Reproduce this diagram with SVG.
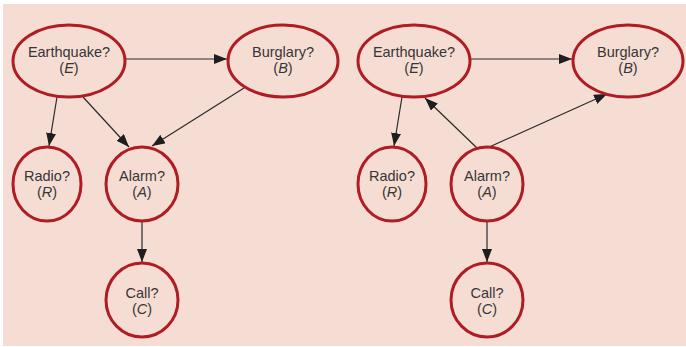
<svg xmlns="http://www.w3.org/2000/svg" width="686" height="347" viewBox="0 0 686 347">
<defs>
<style>
.n{fill:none;stroke:#b01c24;stroke-width:3}
.t{font-family:"Liberation Sans",Arial,sans-serif;font-size:14.5px;fill:#363636;text-anchor:middle}
.i{font-style:italic}
.e{stroke:#2a2a2a;stroke-width:1.2;fill:none;marker-end:url(#ah)}
</style>
<marker id="ah" viewBox="0 0 13 10" refX="13" refY="5" markerWidth="13" markerHeight="10" markerUnits="userSpaceOnUse" orient="auto">
<path d="M0,0 L13,5 L0,10 z" fill="#1e1e1e"/>
</marker>
</defs>
<rect x="3" y="4" width="683" height="342" fill="#f6ddd4"/>
<g id="edges">
<line class="e" x1="125" y1="59" x2="227" y2="59"/>
<line class="e" x1="57" y1="97" x2="49" y2="146"/>
<line class="e" x1="83" y1="97" x2="129" y2="147"/>
<line class="e" x1="244" y1="88" x2="152" y2="146"/>
<line class="e" x1="142" y1="221" x2="142" y2="262"/>
<line class="e" x1="470" y1="59" x2="572" y2="59"/>
<line class="e" x1="402" y1="97" x2="394" y2="146"/>
<line class="e" x1="477" y1="148" x2="425" y2="98"/>
<line class="e" x1="487" y1="148" x2="607" y2="94"/>
<line class="e" x1="487" y1="221" x2="487" y2="262"/>
</g>
<g id="L_E"><ellipse class="n" cx="69" cy="61" rx="56" ry="36"/><text class="t" x="69" y="57">Earthquake?</text><text class="t" x="69" y="73">(<tspan class="i">E</tspan>)</text></g>
<g id="L_B"><ellipse class="n" cx="283" cy="61" rx="55" ry="36"/><text class="t" x="283" y="57">Burglary?</text><text class="t" x="283" y="73">(<tspan class="i">B</tspan>)</text></g>
<g id="L_R"><ellipse class="n" cx="47" cy="184" rx="34" ry="37"/><text class="t" x="47" y="181">Radio?</text><text class="t" x="47" y="197">(<tspan class="i">R</tspan>)</text></g>
<g id="L_A"><ellipse class="n" cx="142" cy="184" rx="36" ry="37"/><text class="t" x="142" y="181">Alarm?</text><text class="t" x="142" y="197">(<tspan class="i">A</tspan>)</text></g>
<g id="L_C"><ellipse class="n" cx="142" cy="300" rx="36" ry="37"/><text class="t" x="142" y="298">Call?</text><text class="t" x="142" y="314">(<tspan class="i">C</tspan>)</text></g>
<g id="R_E"><ellipse class="n" cx="414" cy="61" rx="56" ry="36"/><text class="t" x="414" y="57">Earthquake?</text><text class="t" x="414" y="73">(<tspan class="i">E</tspan>)</text></g>
<g id="R_B"><ellipse class="n" cx="628" cy="61" rx="55" ry="36"/><text class="t" x="628" y="57">Burglary?</text><text class="t" x="628" y="73">(<tspan class="i">B</tspan>)</text></g>
<g id="R_R"><ellipse class="n" cx="392" cy="184" rx="34" ry="37"/><text class="t" x="392" y="181">Radio?</text><text class="t" x="392" y="197">(<tspan class="i">R</tspan>)</text></g>
<g id="R_A"><ellipse class="n" cx="487" cy="184" rx="36" ry="37"/><text class="t" x="487" y="181">Alarm?</text><text class="t" x="487" y="197">(<tspan class="i">A</tspan>)</text></g>
<g id="R_C"><ellipse class="n" cx="487" cy="300" rx="36" ry="37"/><text class="t" x="487" y="298">Call?</text><text class="t" x="487" y="314">(<tspan class="i">C</tspan>)</text></g>
</svg>
